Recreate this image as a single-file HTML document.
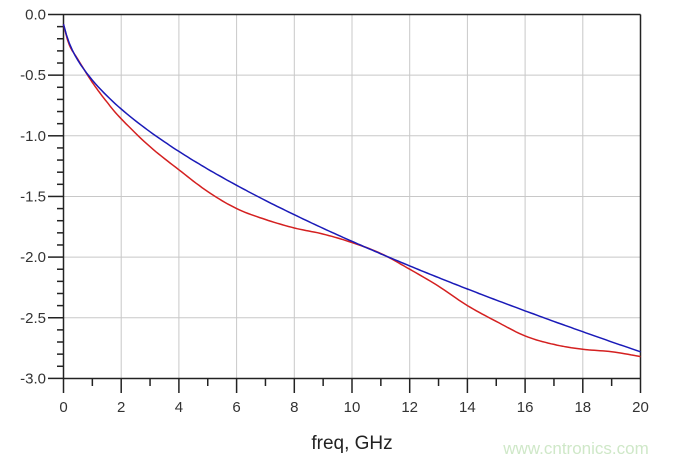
<!DOCTYPE html>
<html><head><style>
html,body{margin:0;padding:0;background:#fff;width:682px;height:463px;overflow:hidden}
svg{display:block}
text{font-family:"Liberation Sans",sans-serif}
</style></head><body>
<svg id="s" width="682" height="463" xmlns="http://www.w3.org/2000/svg">
<g id="grid" stroke="#c8c8c8" stroke-width="1"></g>
<g id="ticks" stroke="#222" stroke-width="1.5"></g>
<g id="labels" fill="#333" font-size="15"></g>
<line x1="63.5" y1="14.5" x2="640.5" y2="14.5" stroke="#222" stroke-width="1.5"/>
<line x1="640.5" y1="14.5" x2="640.5" y2="378.5" stroke="#222" stroke-width="1.5"/>
<line x1="63.5" y1="14.5" x2="63.5" y2="378.5" stroke="#222" stroke-width="1.5"/>
<line x1="63.5" y1="378.5" x2="640.5" y2="378.5" stroke="#222" stroke-width="1.5"/>
<polyline id="red" fill="none" stroke="#d42020" stroke-width="1.5"/>
<polyline id="blue" fill="none" stroke="#1a1ab8" stroke-width="1.5"/>
<text x="352" y="449" font-size="19" fill="#222" text-anchor="middle">freq, GHz</text>
<text x="576" y="454" font-size="17" fill="#cfe8c8" text-anchor="middle">www.cntronics.com</text>
</svg>
<script>
var ns="http://www.w3.org/2000/svg";
function px(f){return 63.5+28.85*f}
function py(v){return 14.5-121.3*v}
function el(p,t,a,txt){var e=document.createElementNS(ns,t);for(var k in a)e.setAttribute(k,a[k]);if(txt!==undefined)e.textContent=txt;document.getElementById(p).appendChild(e);}
for(var f=2;f<20;f+=2)el("grid","line",{x1:px(f),y1:14.5,x2:px(f),y2:378.5});
for(var i=1;i<6;i++){var y=py(-0.5*i);el("grid","line",{x1:63.5,y1:y,x2:640.5,y2:y});}
for(var f=0;f<=20;f++){var x=px(f);el("ticks","line",{x1:x,y1:378.5,x2:x,y2:f%2==0?393:386});
 if(f%2==0)el("labels","text",{x:x,y:412,"text-anchor":"middle"},String(f));}
for(var i=0;i<=30;i++){var y=py(-0.1*i);el("ticks","line",{x1:i%5==0?48:57,y1:y,x2:63.5,y2:y});
 if(i%5==0)el("labels","text",{x:46,y:y+5,"text-anchor":"end"},(-0.1*i).toFixed(1).replace("-0.0","0.0"));}
function blue(f){var v=-(0.518*Math.sqrt(f)+0.0232*f);return Math.min(v,-0.08);}
var pts=[];for(var f=0;f<=20.001;f+=0.1){pts.push(px(f).toFixed(1)+","+py(blue(f)).toFixed(1));}
document.getElementById("blue").setAttribute("points",pts.join(" "));
var R=[[0,-0.08],[0.2,-0.25],[0.5,-0.37],[1,-0.56],[1.5,-0.72],[2,-0.86],[3,-1.09],[4,-1.28],[5,-1.46],[6,-1.6],[7,-1.69],[8,-1.76],[9,-1.81],[10,-1.88],[11,-1.97],[12,-2.1],[13,-2.24],[14,-2.4],[15,-2.53],[16,-2.65],[17,-2.72],[18,-2.76],[19,-2.78],[20,-2.82]];
var rp=[];
// Catmull-Rom smoothing
for(var i=0;i<R.length-1;i++){var p0=R[Math.max(0,i-1)],p1=R[i],p2=R[i+1],p3=R[Math.min(R.length-1,i+2)];
 for(var t=0;t<1;t+=0.1){var t2=t*t,t3=t2*t;
  var f=0.5*((2*p1[0])+(-p0[0]+p2[0])*t+(2*p0[0]-5*p1[0]+4*p2[0]-p3[0])*t2+(-p0[0]+3*p1[0]-3*p2[0]+p3[0])*t3);
  var v=0.5*((2*p1[1])+(-p0[1]+p2[1])*t+(2*p0[1]-5*p1[1]+4*p2[1]-p3[1])*t2+(-p0[1]+3*p1[1]-3*p2[1]+p3[1])*t3);
  rp.push(px(f).toFixed(1)+","+py(v).toFixed(1));}}
rp.push(px(20).toFixed(1)+","+py(-2.82).toFixed(1));
document.getElementById("red").setAttribute("points",rp.join(" "));
</script>
</body></html>
